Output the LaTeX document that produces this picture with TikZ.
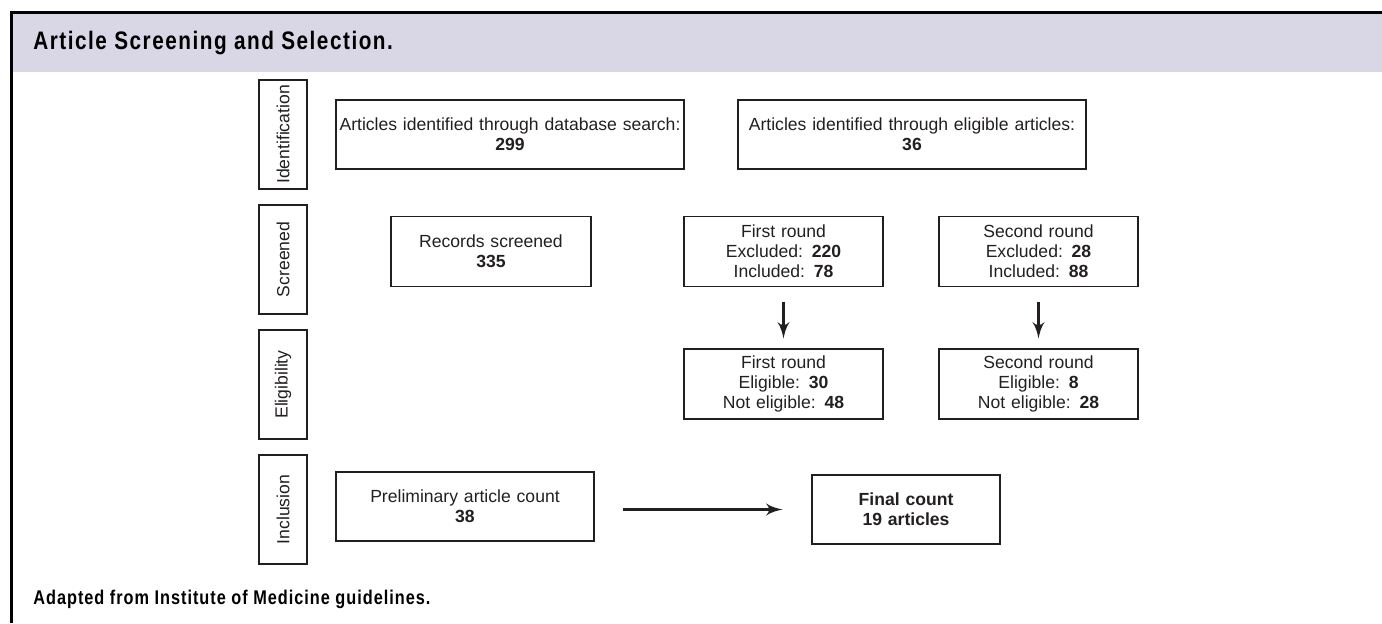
\documentclass[tikz,border=0pt]{standalone}
\usepackage{fontspec}
\setmainfont{Liberation Sans}
\newfontfamily\headfont[FakeStretch=0.82,LetterSpace=6]{Liberation Sans}
\newfontfamily\notefont[FakeStretch=0.82,LetterSpace=5]{Liberation Sans}
\usepackage{tikz}
\usetikzlibrary{arrows,shapes}
\definecolor{ink}{RGB}{35,31,32}
\definecolor{headfill}{RGB}{217,215,230}
\tikzstyle{block} = [rectangle, draw=ink, line width=0.6pt, text=ink,
    text centered, minimum height=1.38cm, inner sep=0pt]
\tikzstyle{stage} = [rectangle, draw=ink, line width=0.6pt, text=ink,
    minimum width=0.96cm, minimum height=2.18cm, inner sep=0pt]
\tikzstyle{line} = [draw, line width=2.2pt, color=ink, -latex']
\tikzstyle{caption} = [anchor=base west, text=black, inner sep=0pt]

\begin{document}
\begin{tikzpicture}[node distance = 2.5cm]
  \fontsize{10}{11.5}\selectfont
    \useasboundingbox (0,0) rectangle (27.64,-12.46);
    % Frame and heading
    \fill[headfill] (0.23,-0.26) rectangle (27.64,-1.44);
    \draw[line width=0.06cm] (0.23,-12.46) -- (0.23,-0.24) -- (27.64,-0.24);
    \node [caption, font=\headfont\bfseries\fontsize{14.4}{16}\selectfont] (title) at (0.66,-0.99) {Article Screening and Selection.};
    \node [caption, font=\notefont\bfseries\fontsize{11.3}{13}\selectfont] (source) at (0.66,-12.08) {Adapted from Institute of Medicine guidelines.};

    % Place nodes
    \node [stage] (ident) at (5.66,-2.69) {\rotatebox{90}{Identification}};
    \node [stage, below of=ident] (screened) {\rotatebox{90}{Screened}};
    \node [stage, below of=screened] (eligib) {\rotatebox{90}{Eligibility}};
    \node [stage, below of=eligib] (inclus) {\rotatebox{90}{Inclusion}};

    \node [block, text width=6.96cm, right of=ident, node distance=4.54cm] (dbSearch) {Articles identified through database search:\\ \textbf{299}};
    \node [block, text width=6.96cm, right of=dbSearch, node distance=8.04cm] (elSearch) {Articles identified through eligible articles:\\ \textbf{36}};

    \node [block, text width=4.0cm, minimum height=1.4cm, below of=dbSearch, node distance=2.34cm, xshift=-0.38cm] (screenRec) {Records screened\\ \textbf{335}};
    \node [block, text width=3.98cm, minimum height=1.4cm, right of=screenRec, node distance=5.85cm] (firstScr) {First round\\ Excluded: \textbf{220}\\ Included: \textbf{78}};
    \node [block, text width=3.98cm, minimum height=1.4cm, right of=firstScr, node distance=5.1cm] (secondScr) {Second round\\ Excluded: \textbf{28}\\ Included: \textbf{88}};
    \node [block, text width=3.98cm, minimum height=1.4cm, below of=firstScr, node distance=2.65cm] (firstElig) {First round\\ Eligible: \textbf{30}\\ Not eligible: \textbf{48}};
    \node [block, text width=3.98cm, minimum height=1.4cm, below of=secondScr, node distance=2.65cm] (secondElig) {Second round\\ Eligible: \textbf{8}\\ Not eligible: \textbf{28}};

    \node [block, text width=5.16cm, right of=inclus, node distance=3.64cm, yshift=0.06cm] (prelim) {Preliminary article count\\ \textbf{38}};
    \node [block, text width=3.76cm, right of=inclus, node distance=12.46cm] (final) {\textbf{Final count}\\ \textbf{19 articles}};

    % Draw edges
    \path [line, shorten <=0.3cm, shorten >=0.2cm] (firstScr) -- (firstElig);
    \path [line, shorten <=0.3cm, shorten >=0.2cm] (secondScr) -- (secondElig);
    \path [line, shorten <=0.56cm, shorten >=0.58cm] (prelim.east |- final) -- (final);

\end{tikzpicture}
\end{document}
